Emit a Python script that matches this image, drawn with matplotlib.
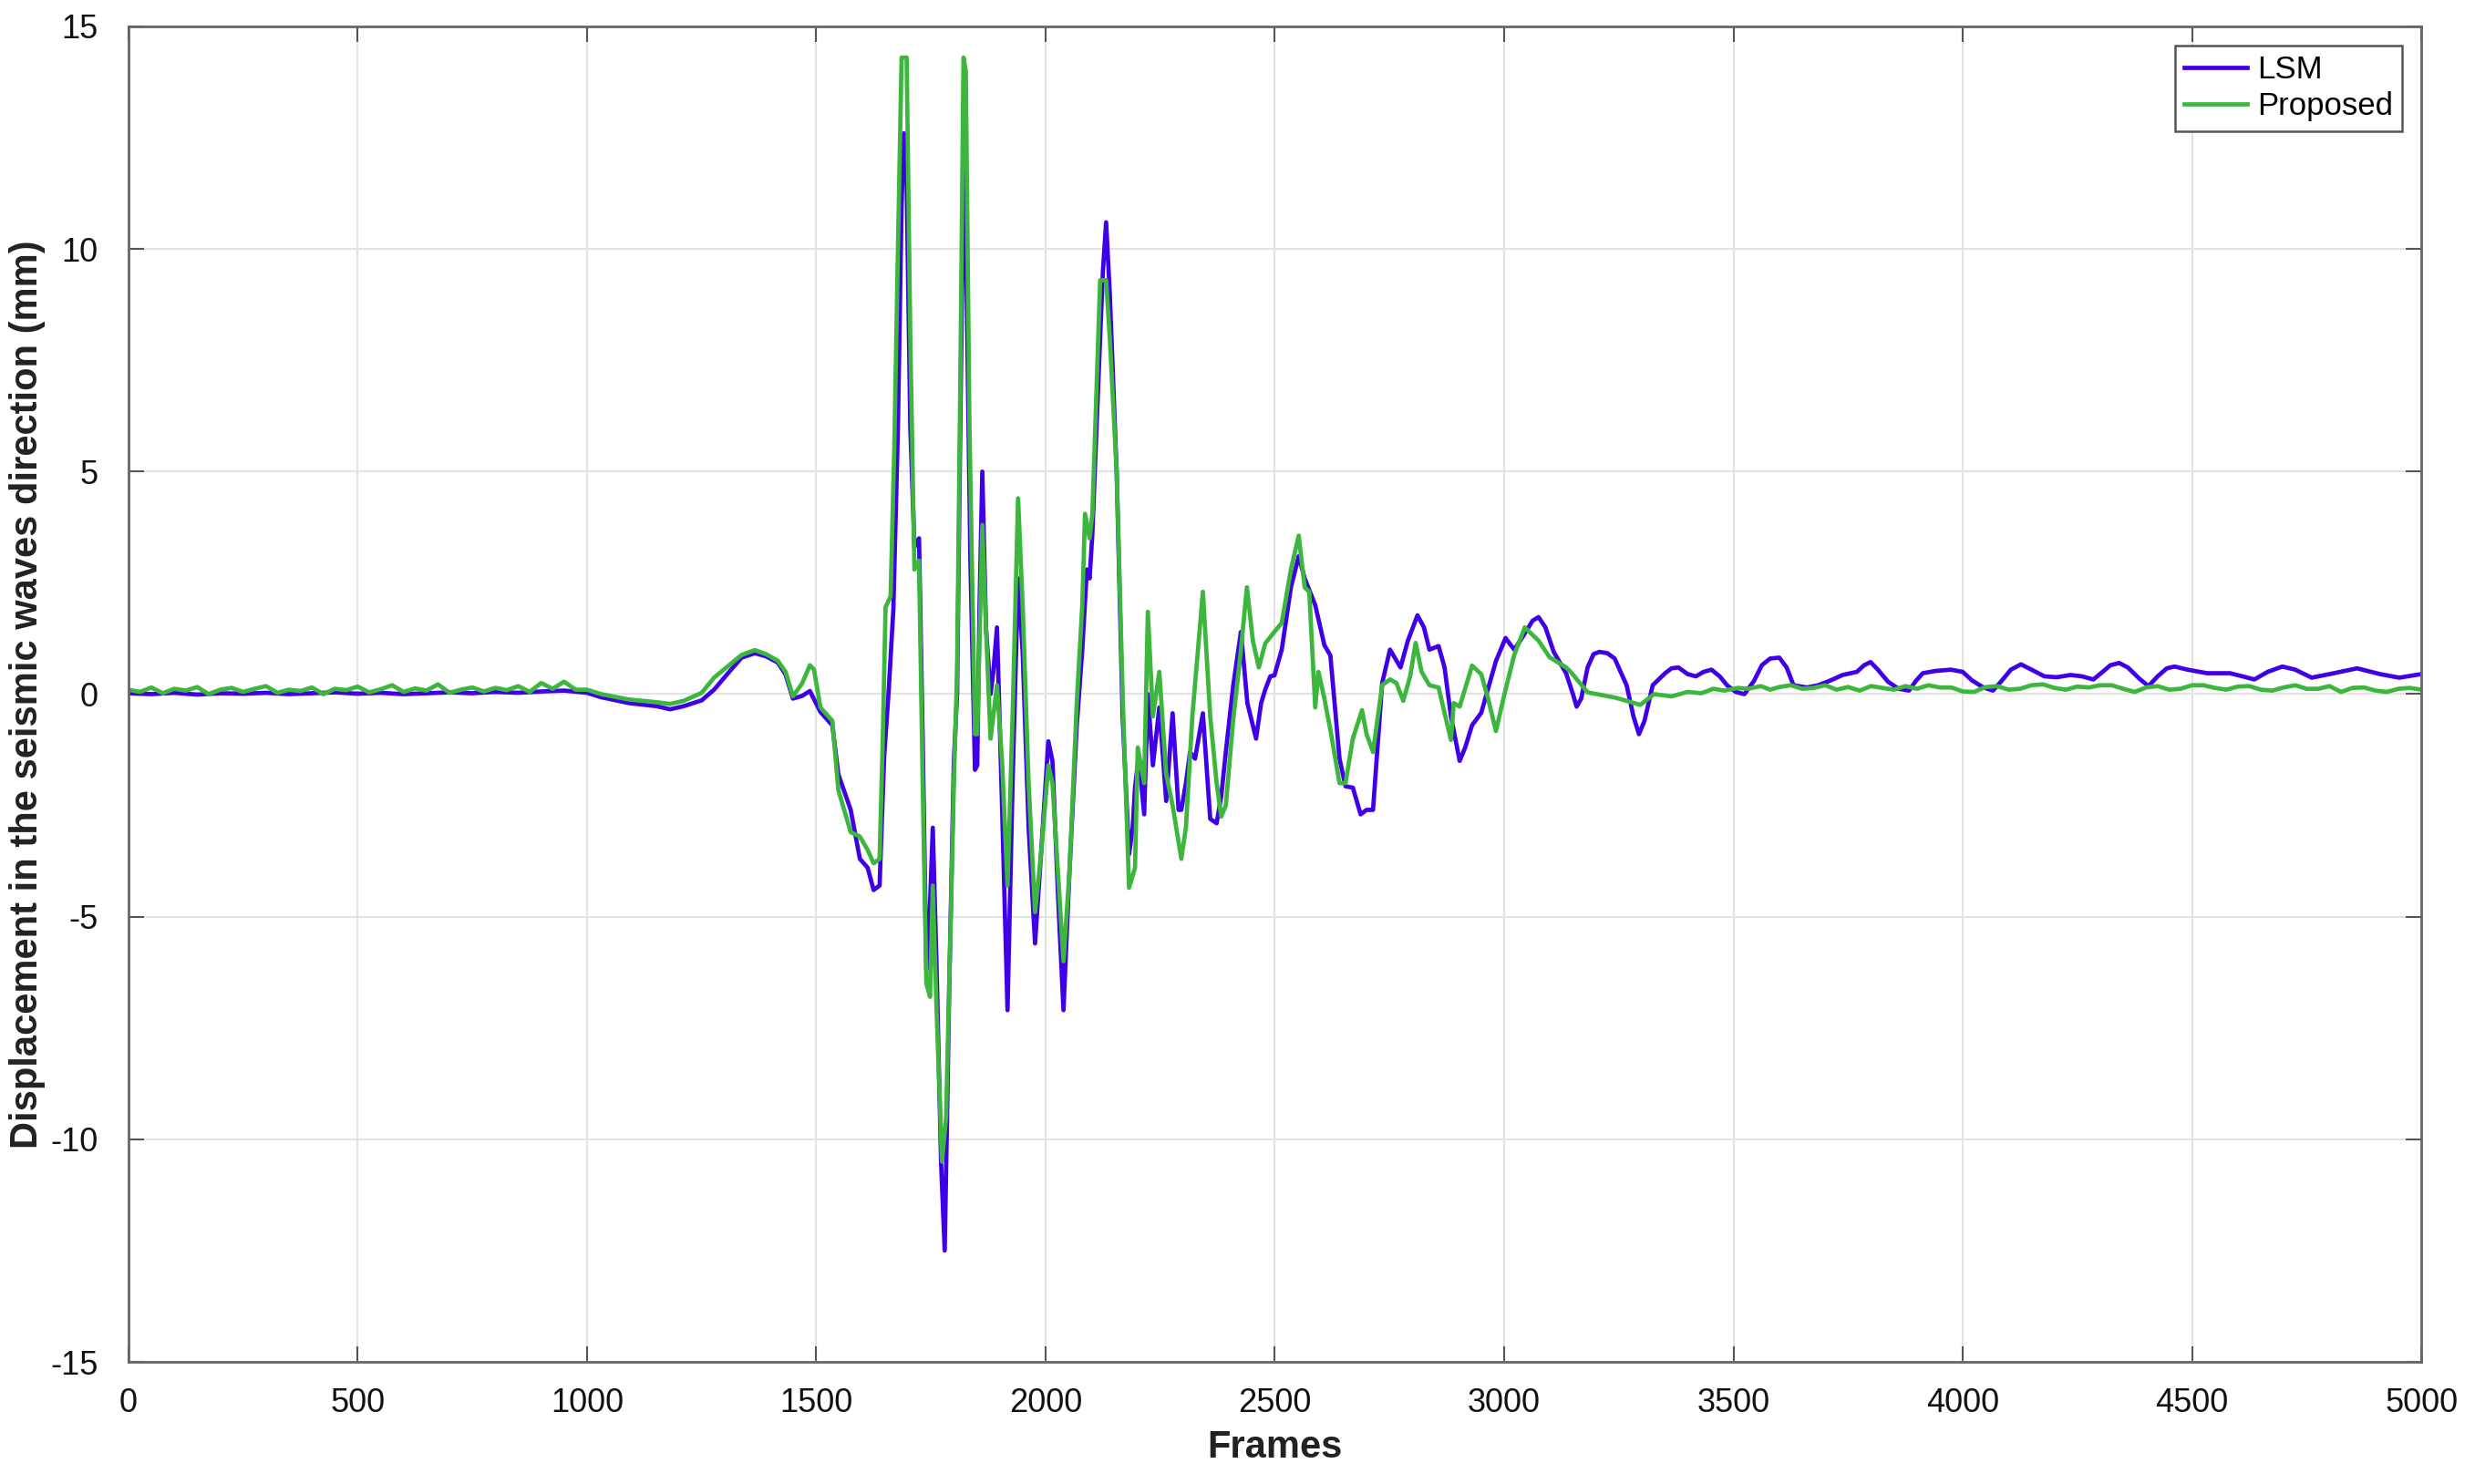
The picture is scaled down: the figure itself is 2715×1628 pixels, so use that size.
import numpy as np
import matplotlib
matplotlib.use("Agg")
import matplotlib.pyplot as plt

plt.rcParams['font.family'] = ['Liberation Sans', 'DejaVu Sans']
plt.rcParams['axes.unicode_minus'] = False

# LSM curve (frames, displacement in mm)
lsm_frames = [0, 50, 100, 150, 200, 250, 300, 350, 400, 450, 500, 550, 600, 650, 700, 750, 800, 850, 900, 950,
              1000, 1031, 1091, 1151, 1181, 1211, 1250, 1277, 1310, 1337, 1366, 1390, 1416, 1433, 1449, 1469,
              1486, 1509, 1535, 1548, 1575, 1595, 1612, 1625, 1638, 1648, 1658, 1668, 1678, 1686, 1691, 1697,
              1705, 1714, 1724, 1732, 1740, 1747, 1754, 1762, 1772, 1780, 1786, 1790, 1800, 1807, 1814, 1822,
              1828, 1836, 1846, 1851, 1856, 1862, 1870, 1880, 1886, 1894, 1905, 1917, 1928, 1940, 1950, 1963,
              1977, 1990, 2006, 2015, 2027, 2039, 2052, 2068, 2080, 2090, 2096, 2102, 2115, 2125, 2132, 2140,
              2155, 2168, 2182, 2190, 2195, 2203, 2215, 2223, 2234, 2248, 2263, 2277, 2290, 2296, 2306, 2315,
              2326, 2343, 2359, 2373, 2383, 2393, 2409, 2426, 2440, 2459, 2470, 2479, 2490, 2499, 2515, 2535,
              2552, 2565, 2588, 2608, 2621, 2641, 2654, 2670, 2687, 2700, 2714, 2734, 2751, 2774, 2790, 2811,
              2825, 2837, 2857, 2870, 2884, 2903, 2915, 2930, 2950, 2970, 2982, 3003, 3022, 3035, 3049, 3062,
              3075, 3090, 3108, 3135, 3150, 3158, 3168, 3182, 3195, 3208, 3225, 3241, 3267, 3282, 3294, 3306,
              3324, 3351, 3365, 3380, 3400, 3418, 3435, 3452, 3470, 3486, 3505, 3524, 3545, 3562, 3580, 3600,
              3616, 3631, 3660, 3685, 3710, 3738, 3769, 3785, 3799, 3815, 3837, 3860, 3883, 3898, 3913, 3940,
              3974, 4000, 4020, 4045, 4066, 4085, 4105, 4127, 4150, 4178, 4205, 4235, 4260, 4285, 4305, 4322,
              4341, 4360, 4385, 4405, 4425, 4445, 4462, 4490, 4533, 4583, 4610, 4636, 4665, 4697, 4725, 4761,
              4800, 4860, 4910, 4952, 5000]
lsm_values = [0.02, 0.0, 0.03, -0.01, 0.02, 0.01, 0.03, 0.0, 0.02, 0.04, 0.01, 0.03, 0.0, 0.02, 0.04, 0.02,
              0.05, 0.03, 0.06, 0.08, 0.03, -0.07, -0.2, -0.27, -0.34, -0.27, -0.14, 0.1, 0.5, 0.82, 0.92, 0.85,
              0.71, 0.44, -0.1, -0.04, 0.07, -0.4, -0.7, -1.8, -2.6, -3.7, -3.9, -4.4, -4.3, -1.4, 0.1, 1.9,
              6.0, 11.0, 12.6, 11.5, 6.0, 3.3, 3.5, -1.0, -6.2, -5.0, -3.0, -6.0, -10.5, -12.5, -9.0, -6.5,
              -1.5, 0.0, 6.0, 12.5, 9.0, 3.0, -1.7, -1.6, 2.0, 5.0, 1.5, 0.0, 0.5, 1.5, -2.5, -7.1, -2.0, 2.6,
              0.95, -3.0, -5.6, -3.6, -1.06, -1.5, -4.5, -7.1, -4.0, -0.7, 1.0, 2.8, 2.6, 3.6, 7.0, 9.5, 10.6,
              9.0, 5.0, -0.5, -3.6, -3.0, -2.1, -1.4, -2.7, 0.0, -1.6, -0.3, -2.4, -0.43, -2.6, -2.6, -2.0, -1.3,
              -1.45, -0.43, -2.8, -2.9, -2.3, -1.3, 0.18, 1.4, -0.2, -1.0, -0.2, 0.1, 0.4, 0.42, 1.0, 2.4, 3.1,
              2.6, 2.0, 1.1, 0.87, -1.45, -2.07, -2.1, -2.7, -2.6, -2.6, 0.25, 1.0, 0.6, 1.2, 1.77,
              1.5, 1.0, 1.08, 0.6, -0.5, -1.5, -1.2, -0.7, -0.42, 0.3, 0.74, 1.26, 1.0, 1.2, 1.43, 1.65,
              1.73, 1.5, 0.95, 0.47, 0.0, -0.28, -0.1, 0.6, 0.9, 0.95, 0.92, 0.8, 0.2, -0.5, -0.9, -0.6,
              0.2, 0.47, 0.58, 0.6, 0.45, 0.4, 0.5, 0.55, 0.4, 0.2, 0.05, 0.0, 0.3, 0.65, 0.8, 0.82,
              0.6, 0.2, 0.15, 0.2, 0.3, 0.43, 0.5, 0.65, 0.72, 0.55, 0.28, 0.12, 0.08, 0.3, 0.47, 0.52,
              0.55, 0.5, 0.31, 0.15, 0.08, 0.3, 0.55, 0.67, 0.55, 0.4, 0.38, 0.43, 0.4, 0.33, 0.5, 0.65,
              0.7, 0.6, 0.35, 0.18, 0.4, 0.58, 0.62, 0.55, 0.47, 0.47, 0.4, 0.33, 0.5, 0.62, 0.55, 0.37,
              0.45, 0.58, 0.45, 0.37, 0.45]

# Proposed curve
prop_frames = [0, 25, 50, 75, 100, 125, 150, 175, 200, 225, 250, 275, 300, 325, 350, 375, 400, 425, 450, 475,
               500, 525, 550, 575, 600, 625, 650, 675, 700, 725, 750, 775, 800, 825, 850, 875, 900, 925, 950,
               975, 1000, 1031, 1091, 1151, 1181, 1211, 1250, 1277, 1310, 1337, 1366, 1390, 1416, 1433, 1449,
               1469, 1486, 1495, 1509, 1535, 1548, 1575, 1595, 1612, 1625, 1638, 1645, 1651, 1662, 1670, 1678,
               1686, 1697, 1705, 1714, 1724, 1732, 1740, 1748, 1754, 1762, 1774, 1783, 1790, 1800, 1807, 1814,
               1821, 1826, 1834, 1846, 1851, 1862, 1870, 1880, 1894, 1905, 1917, 1928, 1940, 1950, 1963, 1977,
               1990, 2006, 2015, 2027, 2039, 2052, 2068, 2080, 2086, 2096, 2102, 2119, 2132, 2140, 2155, 2168,
               2182, 2195, 2201, 2215, 2223, 2234, 2248, 2263, 2277, 2296, 2306, 2320, 2343, 2359, 2373, 2383,
               2393, 2409, 2426, 2439, 2452, 2465, 2479, 2499, 2515, 2535, 2552, 2565, 2575, 2588, 2595, 2608,
               2621, 2641, 2654, 2670, 2690, 2700, 2714, 2734, 2751, 2765, 2780, 2795, 2807, 2820, 2837, 2857,
               2884, 2890, 2903, 2930, 2950, 2965, 2982, 3003, 3022, 3045, 3075, 3099, 3135, 3145, 3182, 3243,
               3297, 3327, 3365, 3400, 3430, 3456, 3480, 3510, 3532, 3560, 3580, 3600, 3625, 3650, 3675, 3700,
               3725, 3750, 3775, 3800, 3825, 3850, 3875, 3900, 3925, 3950, 3975, 4000, 4025, 4050, 4075, 4100,
               4125, 4150, 4175, 4200, 4225, 4250, 4275, 4300, 4325, 4350, 4375, 4400, 4425, 4450, 4475, 4500,
               4525, 4550, 4575, 4600, 4625, 4650, 4675, 4700, 4725, 4750, 4775, 4800, 4825, 4850, 4875, 4900,
               4925, 4950, 4975, 5000]
prop_values = [0.1, 0.05, 0.15, 0.02, 0.12, 0.08, 0.16, 0.0, 0.1, 0.14, 0.05, 0.12, 0.18, 0.03, 0.1, 0.07,
               0.15, 0.0, 0.12, 0.09, 0.17, 0.04, 0.11, 0.2, 0.05, 0.13, 0.08, 0.22, 0.03, 0.1, 0.15, 0.06,
               0.14, 0.09, 0.18, 0.05, 0.25, 0.12, 0.28, 0.1, 0.1, 0.0, -0.12, -0.18, -0.22, -0.15, 0.03, 0.37,
               0.65, 0.88, 0.99, 0.9, 0.75, 0.5, -0.05, 0.24, 0.65, 0.55, -0.3, -0.6, -2.15, -3.1, -3.2, -3.5,
               -3.8, -3.7, -1.0, 1.95, 2.2, 5.5, 10.0, 14.3, 14.3, 8.0, 2.8, 3.0, -2.0, -6.5, -6.8, -4.3, -7.0,
               -10.5, -9.5, -6.5, -2.0, 0.5, 7.0, 14.3, 14.0, 6.0, -0.9, -0.9, 3.8, 1.5, -1.0, 0.2, -1.5, -4.3,
               -0.5, 4.4, 2.0, -2.0, -4.9, -3.6, -1.6, -2.0, -4.0, -6.0, -4.0, -0.2, 2.0, 4.05, 3.5, 4.05, 9.3,
               9.3, 8.0, 5.0, 0.0, -4.35, -3.9, -1.2, -2.0, 1.85, -0.5, 0.5, -1.8, -2.5, -3.7, -3.0, -0.5, 2.3,
               -0.5, -2.0, -2.75, -2.5, -0.6, 1.0, 2.4, 1.2, 0.6, 1.14, 1.4, 1.6, 2.8, 3.56, 2.4, 2.3, -0.3, 0.5,
               -0.1, -0.8, -2.0, -2.0, -1.0, -0.36, -0.9, -1.3, 0.2, 0.33, 0.25, -0.15, 0.4, 1.15, 0.5, 0.2,
               0.15, -1.03, -0.2, -0.28, 0.64, 0.45, -0.1, -0.83, 0.1, 0.88, 1.5, 1.2, 0.83, 0.6, 0.5, 0.04,
               -0.08, -0.24, 0.0, -0.05, 0.05, 0.02, 0.12, 0.08, 0.14, 0.12, 0.18, 0.1, 0.16, 0.2, 0.12, 0.14,
               0.2, 0.1, 0.16, 0.08, 0.18, 0.14, 0.1, 0.18, 0.12, 0.2, 0.15, 0.15, 0.06, 0.05, 0.16, 0.18,
               0.1, 0.12, 0.2, 0.22, 0.14, 0.1, 0.17, 0.15, 0.2, 0.2, 0.12, 0.05, 0.15, 0.18, 0.1, 0.12,
               0.2, 0.2, 0.14, 0.1, 0.17, 0.18, 0.1, 0.08, 0.15, 0.2, 0.12, 0.12, 0.18, 0.05, 0.14, 0.15,
               0.08, 0.05, 0.12, 0.14, 0.1]

fig = plt.figure(figsize=(27.15, 16.28), dpi=100)
ax = fig.add_axes([0.0519, 0.0823, 0.9264, 0.8999])

ax.plot(lsm_frames, lsm_values, color='#3f00e8', lw=3.4, label='LSM')
ax.plot(prop_frames, prop_values, color='#3db63d', lw=3.4, label='Proposed')

ax.set_xlim(0, 5000)
ax.set_ylim(-15, 15)
ax.set_xticks(np.arange(0, 5001, 500))
ax.set_yticks(np.arange(-15, 16, 5))
ax.grid(True, color='#e3e3e3', lw=1.5)
ax.set_axisbelow(True)
ax.tick_params(direction='in', length=12, width=1.5, color='#555555', labelsize=26,
               top=True, right=True, labelcolor='#111111')
ax.tick_params(axis='x', pad=20)
ax.tick_params(axis='y', pad=24)
for s in ax.spines.values():
    s.set_color('#666666')
    s.set_linewidth(2)

ax.set_xlabel('Frames', fontsize=30, fontweight='bold', color='#222222', labelpad=8)
ax.set_ylabel('Displacement in the seismic waves direction (mm)', fontsize=30, fontweight='bold',
              color='#222222', labelpad=4)

leg = ax.legend(loc='upper right', fontsize=25, handlelength=2.0, handletextpad=0.3,
                borderpad=0.3, labelspacing=0.2, fancybox=False, framealpha=1,
                borderaxespad=0.6)
leg.get_frame().set_edgecolor('#555555')
leg.get_frame().set_linewidth(1.8)

fig.savefig('out.png', dpi=100)
